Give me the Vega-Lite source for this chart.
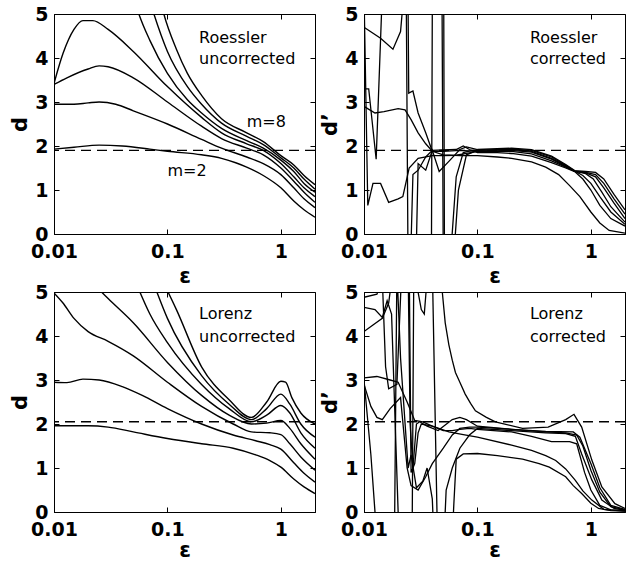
{
  "$schema": "https://vega.github.io/schema/vega-lite/v6.json",
  "background": "white",
  "padding": {"left": 9, "top": 4, "right": 2, "bottom": 0},
  "columns": 2,
  "spacing": {"row": 58, "column": 49},
  "bounds": "flush",
  "config": {
    "view": {"stroke": "black", "strokeWidth": 1},
    "axis": {
      "grid": false, "domainColor": "black", "domainWidth": 1, "tickColor": "black", "tickSize": -5, "tickWidth": 1,
      "labelFont": "DejaVu Sans", "labelFontSize": 19, "labelFontWeight": "bold", "labelColor": "black", "labelPadding": 11,
      "titleFont": "DejaVu Sans", "titleFontSize": 21, "titleFontWeight": "bold", "titleColor": "black",
      "labelOverlap": false, "labelFlush": false
    },
    "axisBottom": {"labelPadding": 13}
  },
  "datasets": {
    "curves": [
      {"p":"RU","m":2,"x":0.01,"y":1.93},{"p":"RU","m":2,"x":0.015,"y":1.97},{"p":"RU","m":2,"x":0.025,"y":2.02},{"p":"RU","m":2,"x":0.04,"y":2.0},{"p":"RU","m":2,"x":0.07,"y":1.93},{"p":"RU","m":2,"x":0.1,"y":1.88},{"p":"RU","m":2,"x":0.2,"y":1.8},{"p":"RU","m":2,"x":0.3,"y":1.72},{"p":"RU","m":2,"x":0.4,"y":1.62},{"p":"RU","m":2,"x":0.5,"y":1.52},{"p":"RU","m":2,"x":0.7,"y":1.33},{"p":"RU","m":2,"x":1,"y":1.05},{"p":"RU","m":2,"x":1.3,"y":0.75},{"p":"RU","m":2,"x":1.6,"y":0.55},{"p":"RU","m":2,"x":2,"y":0.38},
      {"p":"RU","m":3,"x":0.01,"y":2.95},{"p":"RU","m":3,"x":0.015,"y":2.95},{"p":"RU","m":3,"x":0.02,"y":2.98},{"p":"RU","m":3,"x":0.025,"y":3.0},{"p":"RU","m":3,"x":0.035,"y":2.95},{"p":"RU","m":3,"x":0.05,"y":2.8},{"p":"RU","m":3,"x":0.1,"y":2.5},{"p":"RU","m":3,"x":0.2,"y":2.15},{"p":"RU","m":3,"x":0.3,"y":1.95},{"p":"RU","m":3,"x":0.5,"y":1.75},{"p":"RU","m":3,"x":0.7,"y":1.6},{"p":"RU","m":3,"x":1,"y":1.35},{"p":"RU","m":3,"x":1.3,"y":1.05},{"p":"RU","m":3,"x":1.6,"y":0.8},{"p":"RU","m":3,"x":2,"y":0.6},
      {"p":"RU","m":4,"x":0.01,"y":3.4},{"p":"RU","m":4,"x":0.013,"y":3.55},{"p":"RU","m":4,"x":0.02,"y":3.75},{"p":"RU","m":4,"x":0.025,"y":3.82},{"p":"RU","m":4,"x":0.03,"y":3.8},{"p":"RU","m":4,"x":0.05,"y":3.55},{"p":"RU","m":4,"x":0.1,"y":3.0},{"p":"RU","m":4,"x":0.2,"y":2.45},{"p":"RU","m":4,"x":0.3,"y":2.17},{"p":"RU","m":4,"x":0.5,"y":1.95},{"p":"RU","m":4,"x":0.7,"y":1.8},{"p":"RU","m":4,"x":1,"y":1.5},{"p":"RU","m":4,"x":1.3,"y":1.2},{"p":"RU","m":4,"x":1.6,"y":0.95},{"p":"RU","m":4,"x":2,"y":0.72},
      {"p":"RU","m":5,"x":0.01,"y":3.42},{"p":"RU","m":5,"x":0.012,"y":4.1},{"p":"RU","m":5,"x":0.015,"y":4.65},{"p":"RU","m":5,"x":0.018,"y":4.85},{"p":"RU","m":5,"x":0.022,"y":4.85},{"p":"RU","m":5,"x":0.03,"y":4.65},{"p":"RU","m":5,"x":0.05,"y":4.15},{"p":"RU","m":5,"x":0.1,"y":3.35},{"p":"RU","m":5,"x":0.2,"y":2.65},{"p":"RU","m":5,"x":0.3,"y":2.3},{"p":"RU","m":5,"x":0.5,"y":2.05},{"p":"RU","m":5,"x":0.7,"y":1.9},{"p":"RU","m":5,"x":1,"y":1.6},{"p":"RU","m":5,"x":1.3,"y":1.3},{"p":"RU","m":5,"x":1.6,"y":1.05},{"p":"RU","m":5,"x":2,"y":0.85},
      {"p":"RU","m":6,"x":0.05,"y":5.4},{"p":"RU","m":6,"x":0.056,"y":5.0},{"p":"RU","m":6,"x":0.07,"y":4.4},{"p":"RU","m":6,"x":0.1,"y":3.65},{"p":"RU","m":6,"x":0.15,"y":3.05},{"p":"RU","m":6,"x":0.2,"y":2.75},{"p":"RU","m":6,"x":0.3,"y":2.4},{"p":"RU","m":6,"x":0.5,"y":2.12},{"p":"RU","m":6,"x":0.7,"y":1.95},{"p":"RU","m":6,"x":1,"y":1.68},{"p":"RU","m":6,"x":1.3,"y":1.42},{"p":"RU","m":6,"x":1.6,"y":1.15},{"p":"RU","m":6,"x":2,"y":0.95},
      {"p":"RU","m":7,"x":0.068,"y":5.4},{"p":"RU","m":7,"x":0.076,"y":5.0},{"p":"RU","m":7,"x":0.1,"y":4.15},{"p":"RU","m":7,"x":0.15,"y":3.35},{"p":"RU","m":7,"x":0.2,"y":2.95},{"p":"RU","m":7,"x":0.3,"y":2.52},{"p":"RU","m":7,"x":0.5,"y":2.22},{"p":"RU","m":7,"x":0.7,"y":2.03},{"p":"RU","m":7,"x":1,"y":1.73},{"p":"RU","m":7,"x":1.3,"y":1.5},{"p":"RU","m":7,"x":1.6,"y":1.25},{"p":"RU","m":7,"x":2,"y":1.02},
      {"p":"RU","m":8,"x":0.085,"y":5.4},{"p":"RU","m":8,"x":0.093,"y":5.0},{"p":"RU","m":8,"x":0.12,"y":4.2},{"p":"RU","m":8,"x":0.15,"y":3.65},{"p":"RU","m":8,"x":0.2,"y":3.15},{"p":"RU","m":8,"x":0.3,"y":2.62},{"p":"RU","m":8,"x":0.5,"y":2.3},{"p":"RU","m":8,"x":0.7,"y":2.1},{"p":"RU","m":8,"x":1,"y":1.78},{"p":"RU","m":8,"x":1.3,"y":1.57},{"p":"RU","m":8,"x":1.6,"y":1.33},{"p":"RU","m":8,"x":2,"y":1.12},

      {"p":"RC","m":2,"x":0.01,"y":2.9},{"p":"RC","m":2,"x":0.0125,"y":2.75},{"p":"RC","m":2,"x":0.015,"y":2.78},{"p":"RC","m":2,"x":0.02,"y":2.85},{"p":"RC","m":2,"x":0.023,"y":2.82},{"p":"RC","m":2,"x":0.026,"y":2.6},{"p":"RC","m":2,"x":0.03,"y":2.3},{"p":"RC","m":2,"x":0.035,"y":2.05},{"p":"RC","m":2,"x":0.04,"y":1.88},{"p":"RC","m":2,"x":0.05,"y":1.8},{"p":"RC","m":2,"x":0.07,"y":1.78},{"p":"RC","m":2,"x":0.1,"y":1.78},{"p":"RC","m":2,"x":0.15,"y":1.75},{"p":"RC","m":2,"x":0.2,"y":1.72},{"p":"RC","m":2,"x":0.3,"y":1.64},{"p":"RC","m":2,"x":0.4,"y":1.52},{"p":"RC","m":2,"x":0.52,"y":1.35},{"p":"RC","m":2,"x":0.65,"y":1.1},{"p":"RC","m":2,"x":0.8,"y":0.85},{"p":"RC","m":2,"x":1,"y":0.5},{"p":"RC","m":2,"x":1.2,"y":0.25},{"p":"RC","m":2,"x":1.45,"y":0.08},{"p":"RC","m":2,"x":2,"y":0.02},
      {"p":"RC","m":3,"x":0.01,"y":3.3},{"p":"RC","m":3,"x":0.011,"y":3.3},{"p":"RC","m":3,"x":0.0128,"y":1.7},{"p":"RC","m":3,"x":0.0145,"y":5.5},{"p":"RC","m":3,"x":0.0235,"y":6},{"p":"RC","m":3,"x":0.0245,"y":-1},{"p":"RC","m":3,"x":0.0255,"y":-1},{"p":"RC","m":3,"x":0.027,"y":1.35},{"p":"RC","m":3,"x":0.03,"y":1.45},{"p":"RC","m":3,"x":0.035,"y":1.75},{"p":"RC","m":3,"x":0.04,"y":1.9},{"p":"RC","m":3,"x":0.05,"y":1.91},{"p":"RC","m":3,"x":0.065,"y":1.92},{"p":"RC","m":3,"x":0.075,"y":2.0},{"p":"RC","m":3,"x":0.085,"y":1.92},{"p":"RC","m":3,"x":0.1,"y":1.85},{"p":"RC","m":3,"x":0.15,"y":1.85},{"p":"RC","m":3,"x":0.2,"y":1.83},{"p":"RC","m":3,"x":0.3,"y":1.77},{"p":"RC","m":3,"x":0.45,"y":1.62},{"p":"RC","m":3,"x":0.6,"y":1.5},{"p":"RC","m":3,"x":0.72,"y":1.42},{"p":"RC","m":3,"x":0.85,"y":1.25},{"p":"RC","m":3,"x":1,"y":1.0},{"p":"RC","m":3,"x":1.2,"y":0.65},{"p":"RC","m":3,"x":1.5,"y":0.35},{"p":"RC","m":3,"x":2,"y":0.18},
      {"p":"RC","m":4,"x":0.01,"y":4.7},{"p":"RC","m":4,"x":0.014,"y":4.45},{"p":"RC","m":4,"x":0.018,"y":4.2},{"p":"RC","m":4,"x":0.021,"y":4.6},{"p":"RC","m":4,"x":0.0225,"y":5.5},{"p":"RC","m":4,"x":0.024,"y":8},{"p":"RC","m":4,"x":0.0248,"y":3.2},{"p":"RC","m":4,"x":0.027,"y":3.25},{"p":"RC","m":4,"x":0.03,"y":2.75},{"p":"RC","m":4,"x":0.035,"y":2.3},{"p":"RC","m":4,"x":0.04,"y":1.88},{"p":"RC","m":4,"x":0.05,"y":1.88},{"p":"RC","m":4,"x":0.07,"y":1.9},{"p":"RC","m":4,"x":0.1,"y":1.88},{"p":"RC","m":4,"x":0.15,"y":1.88},{"p":"RC","m":4,"x":0.2,"y":1.88},{"p":"RC","m":4,"x":0.3,"y":1.82},{"p":"RC","m":4,"x":0.45,"y":1.66},{"p":"RC","m":4,"x":0.6,"y":1.52},{"p":"RC","m":4,"x":0.72,"y":1.43},{"p":"RC","m":4,"x":0.85,"y":1.33},{"p":"RC","m":4,"x":1,"y":1.15},{"p":"RC","m":4,"x":1.2,"y":0.85},{"p":"RC","m":4,"x":1.5,"y":0.5},{"p":"RC","m":4,"x":2,"y":0.22},
      {"p":"RC","m":5,"x":0.01,"y":5.5},{"p":"RC","m":5,"x":0.0108,"y":0.65},{"p":"RC","m":5,"x":0.012,"y":1.15},{"p":"RC","m":5,"x":0.014,"y":1.15},{"p":"RC","m":5,"x":0.0165,"y":0.72},{"p":"RC","m":5,"x":0.02,"y":0.8},{"p":"RC","m":5,"x":0.022,"y":0.85},{"p":"RC","m":5,"x":0.025,"y":1.5},{"p":"RC","m":5,"x":0.03,"y":1.72},{"p":"RC","m":5,"x":0.04,"y":1.78},{"p":"RC","m":5,"x":0.05,"y":1.78},{"p":"RC","m":5,"x":0.065,"y":1.79},{"p":"RC","m":5,"x":0.08,"y":1.83},{"p":"RC","m":5,"x":0.1,"y":1.88},{"p":"RC","m":5,"x":0.2,"y":1.9},{"p":"RC","m":5,"x":0.3,"y":1.86},{"p":"RC","m":5,"x":0.45,"y":1.7},{"p":"RC","m":5,"x":0.6,"y":1.53},{"p":"RC","m":5,"x":0.72,"y":1.43},{"p":"RC","m":5,"x":0.9,"y":1.37},{"p":"RC","m":5,"x":1.05,"y":1.25},{"p":"RC","m":5,"x":1.25,"y":0.95},{"p":"RC","m":5,"x":1.5,"y":0.62},{"p":"RC","m":5,"x":2,"y":0.27},
      {"p":"RC","m":6,"x":0.01,"y":-3},{"p":"RC","m":6,"x":0.039,"y":-3},{"p":"RC","m":6,"x":0.0405,"y":9},{"p":"RC","m":6,"x":0.05,"y":9},{"p":"RC","m":6,"x":0.0515,"y":-3},{"p":"RC","m":6,"x":0.058,"y":-0.5},{"p":"RC","m":6,"x":0.065,"y":1.3},{"p":"RC","m":6,"x":0.075,"y":1.85},{"p":"RC","m":6,"x":0.09,"y":1.9},{"p":"RC","m":6,"x":0.1,"y":1.9},{"p":"RC","m":6,"x":0.2,"y":1.92},{"p":"RC","m":6,"x":0.3,"y":1.88},{"p":"RC","m":6,"x":0.45,"y":1.72},{"p":"RC","m":6,"x":0.6,"y":1.55},{"p":"RC","m":6,"x":0.72,"y":1.43},{"p":"RC","m":6,"x":0.9,"y":1.39},{"p":"RC","m":6,"x":1.1,"y":1.3},{"p":"RC","m":6,"x":1.3,"y":1.05},{"p":"RC","m":6,"x":1.6,"y":0.7},{"p":"RC","m":6,"x":2,"y":0.35},
      {"p":"RC","m":7,"x":0.01,"y":9},{"p":"RC","m":7,"x":0.048,"y":9},{"p":"RC","m":7,"x":0.0505,"y":-3},{"p":"RC","m":7,"x":0.06,"y":-1},{"p":"RC","m":7,"x":0.068,"y":1.0},{"p":"RC","m":7,"x":0.08,"y":1.8},{"p":"RC","m":7,"x":0.1,"y":1.9},{"p":"RC","m":7,"x":0.2,"y":1.93},{"p":"RC","m":7,"x":0.3,"y":1.9},{"p":"RC","m":7,"x":0.45,"y":1.75},{"p":"RC","m":7,"x":0.6,"y":1.56},{"p":"RC","m":7,"x":0.72,"y":1.43},{"p":"RC","m":7,"x":0.9,"y":1.4},{"p":"RC","m":7,"x":1.1,"y":1.35},{"p":"RC","m":7,"x":1.3,"y":1.15},{"p":"RC","m":7,"x":1.6,"y":0.8},{"p":"RC","m":7,"x":2,"y":0.45},
      {"p":"RC","m":8,"x":0.01,"y":-2},{"p":"RC","m":8,"x":0.028,"y":-2},{"p":"RC","m":8,"x":0.03,"y":1.6},{"p":"RC","m":8,"x":0.035,"y":1.45},{"p":"RC","m":8,"x":0.04,"y":1.9},{"p":"RC","m":8,"x":0.046,"y":1.42},{"p":"RC","m":8,"x":0.056,"y":1.65},{"p":"RC","m":8,"x":0.07,"y":1.92},{"p":"RC","m":8,"x":0.08,"y":1.98},{"p":"RC","m":8,"x":0.1,"y":1.92},{"p":"RC","m":8,"x":0.2,"y":1.95},{"p":"RC","m":8,"x":0.3,"y":1.92},{"p":"RC","m":8,"x":0.45,"y":1.77},{"p":"RC","m":8,"x":0.6,"y":1.58},{"p":"RC","m":8,"x":0.72,"y":1.44},{"p":"RC","m":8,"x":0.9,"y":1.42},{"p":"RC","m":8,"x":1.1,"y":1.4},{"p":"RC","m":8,"x":1.3,"y":1.25},{"p":"RC","m":8,"x":1.6,"y":0.9},{"p":"RC","m":8,"x":2,"y":0.55},

      {"p":"LU","m":2,"x":0.01,"y":1.96},{"p":"LU","m":2,"x":0.02,"y":1.96},{"p":"LU","m":2,"x":0.03,"y":1.93},{"p":"LU","m":2,"x":0.05,"y":1.82},{"p":"LU","m":2,"x":0.1,"y":1.67},{"p":"LU","m":2,"x":0.2,"y":1.55},{"p":"LU","m":2,"x":0.38,"y":1.45},{"p":"LU","m":2,"x":0.6,"y":1.3},{"p":"LU","m":2,"x":0.8,"y":1.17},{"p":"LU","m":2,"x":1,"y":1.02},{"p":"LU","m":2,"x":1.3,"y":0.75},{"p":"LU","m":2,"x":1.6,"y":0.57},{"p":"LU","m":2,"x":2,"y":0.42},
      {"p":"LU","m":3,"x":0.01,"y":2.95},{"p":"LU","m":3,"x":0.013,"y":2.94},{"p":"LU","m":3,"x":0.018,"y":3.02},{"p":"LU","m":3,"x":0.025,"y":3.0},{"p":"LU","m":3,"x":0.04,"y":2.85},{"p":"LU","m":3,"x":0.06,"y":2.65},{"p":"LU","m":3,"x":0.1,"y":2.35},{"p":"LU","m":3,"x":0.2,"y":2.0},{"p":"LU","m":3,"x":0.38,"y":1.75},{"p":"LU","m":3,"x":0.6,"y":1.62},{"p":"LU","m":3,"x":0.8,"y":1.53},{"p":"LU","m":3,"x":1,"y":1.43},{"p":"LU","m":3,"x":1.3,"y":1.12},{"p":"LU","m":3,"x":1.6,"y":0.88},{"p":"LU","m":3,"x":2,"y":0.68},
      {"p":"LU","m":4,"x":0.01,"y":4.98},{"p":"LU","m":4,"x":0.012,"y":4.75},{"p":"LU","m":4,"x":0.015,"y":4.4},{"p":"LU","m":4,"x":0.02,"y":4.1},{"p":"LU","m":4,"x":0.03,"y":3.88},{"p":"LU","m":4,"x":0.05,"y":3.55},{"p":"LU","m":4,"x":0.1,"y":2.95},{"p":"LU","m":4,"x":0.2,"y":2.4},{"p":"LU","m":4,"x":0.38,"y":2.0},{"p":"LU","m":4,"x":0.55,"y":1.82},{"p":"LU","m":4,"x":0.8,"y":1.8},{"p":"LU","m":4,"x":1,"y":1.76},{"p":"LU","m":4,"x":1.2,"y":1.55},{"p":"LU","m":4,"x":1.5,"y":1.25},{"p":"LU","m":4,"x":2,"y":0.95},
      {"p":"LU","m":5,"x":0.022,"y":5.2},{"p":"LU","m":5,"x":0.03,"y":4.85},{"p":"LU","m":5,"x":0.05,"y":4.3},{"p":"LU","m":5,"x":0.1,"y":3.4},{"p":"LU","m":5,"x":0.2,"y":2.65},{"p":"LU","m":5,"x":0.35,"y":2.2},{"p":"LU","m":5,"x":0.55,"y":2.0},{"p":"LU","m":5,"x":0.75,"y":2.02},{"p":"LU","m":5,"x":1,"y":2.08},{"p":"LU","m":5,"x":1.2,"y":1.9},{"p":"LU","m":5,"x":1.5,"y":1.55},{"p":"LU","m":5,"x":2,"y":1.2},
      {"p":"LU","m":6,"x":0.055,"y":5.1},{"p":"LU","m":6,"x":0.07,"y":4.5},{"p":"LU","m":6,"x":0.1,"y":3.85},{"p":"LU","m":6,"x":0.2,"y":2.9},{"p":"LU","m":6,"x":0.35,"y":2.35},{"p":"LU","m":6,"x":0.55,"y":2.05},{"p":"LU","m":6,"x":0.75,"y":2.2},{"p":"LU","m":6,"x":1,"y":2.42},{"p":"LU","m":6,"x":1.2,"y":2.25},{"p":"LU","m":6,"x":1.5,"y":1.8},{"p":"LU","m":6,"x":2,"y":1.45},
      {"p":"LU","m":7,"x":0.078,"y":5.1},{"p":"LU","m":7,"x":0.1,"y":4.4},{"p":"LU","m":7,"x":0.2,"y":3.1},{"p":"LU","m":7,"x":0.35,"y":2.45},{"p":"LU","m":7,"x":0.55,"y":2.1},{"p":"LU","m":7,"x":0.75,"y":2.35},{"p":"LU","m":7,"x":1,"y":2.68},{"p":"LU","m":7,"x":1.2,"y":2.45},{"p":"LU","m":7,"x":1.5,"y":2.0},{"p":"LU","m":7,"x":2,"y":1.7},
      {"p":"LU","m":8,"x":0.097,"y":5.1},{"p":"LU","m":8,"x":0.12,"y":4.6},{"p":"LU","m":8,"x":0.2,"y":3.3},{"p":"LU","m":8,"x":0.35,"y":2.55},{"p":"LU","m":8,"x":0.55,"y":2.15},{"p":"LU","m":8,"x":0.75,"y":2.5},{"p":"LU","m":8,"x":1,"y":2.97},{"p":"LU","m":8,"x":1.1,"y":2.95},{"p":"LU","m":8,"x":1.25,"y":2.6},{"p":"LU","m":8,"x":1.5,"y":2.25},{"p":"LU","m":8,"x":2,"y":2.0},

      {"p":"LC","m":2,"x":0.01,"y":3.0},{"p":"LC","m":2,"x":0.0115,"y":1.3},{"p":"LC","m":2,"x":0.0125,"y":0},{"p":"LC","m":2,"x":0.013,"y":-1},{"p":"LC","m":2,"x":0.0185,"y":-1},{"p":"LC","m":2,"x":0.0195,"y":5.5},{"p":"LC","m":2,"x":0.021,"y":3.5},{"p":"LC","m":2,"x":0.0245,"y":1.0},{"p":"LC","m":2,"x":0.026,"y":1.3},{"p":"LC","m":2,"x":0.029,"y":0.55},{"p":"LC","m":2,"x":0.033,"y":0.7},{"p":"LC","m":2,"x":0.036,"y":1.0},{"p":"LC","m":2,"x":0.04,"y":0.3},{"p":"LC","m":2,"x":0.042,"y":-1},{"p":"LC","m":2,"x":0.059,"y":-1},{"p":"LC","m":2,"x":0.062,"y":0.2},{"p":"LC","m":2,"x":0.065,"y":1.2},{"p":"LC","m":2,"x":0.075,"y":1.32},{"p":"LC","m":2,"x":0.1,"y":1.33},{"p":"LC","m":2,"x":0.15,"y":1.28},{"p":"LC","m":2,"x":0.25,"y":1.2},{"p":"LC","m":2,"x":0.35,"y":1.1},{"p":"LC","m":2,"x":0.43,"y":1.02},{"p":"LC","m":2,"x":0.6,"y":0.8},{"p":"LC","m":2,"x":0.7,"y":0.6},{"p":"LC","m":2,"x":0.83,"y":0.42},{"p":"LC","m":2,"x":1,"y":0.2},{"p":"LC","m":2,"x":1.17,"y":0.08},{"p":"LC","m":2,"x":1.5,"y":0.03},{"p":"LC","m":2,"x":2,"y":0.02},
      {"p":"LC","m":3,"x":0.01,"y":3.05},{"p":"LC","m":3,"x":0.013,"y":3.08},{"p":"LC","m":3,"x":0.017,"y":3.0},{"p":"LC","m":3,"x":0.02,"y":2.95},{"p":"LC","m":3,"x":0.024,"y":2.5},{"p":"LC","m":3,"x":0.028,"y":2.08},{"p":"LC","m":3,"x":0.033,"y":2.05},{"p":"LC","m":3,"x":0.04,"y":1.95},{"p":"LC","m":3,"x":0.056,"y":1.82},{"p":"LC","m":3,"x":0.075,"y":1.76},{"p":"LC","m":3,"x":0.1,"y":1.7},{"p":"LC","m":3,"x":0.2,"y":1.52},{"p":"LC","m":3,"x":0.3,"y":1.4},{"p":"LC","m":3,"x":0.4,"y":1.28},{"p":"LC","m":3,"x":0.49,"y":1.17},{"p":"LC","m":3,"x":0.6,"y":0.98},{"p":"LC","m":3,"x":0.73,"y":0.72},{"p":"LC","m":3,"x":0.85,"y":0.48},{"p":"LC","m":3,"x":1.02,"y":0.27},{"p":"LC","m":3,"x":1.3,"y":0.06},{"p":"LC","m":3,"x":2,"y":0.02},
      {"p":"LC","m":4,"x":0.01,"y":4.1},{"p":"LC","m":4,"x":0.012,"y":4.25},{"p":"LC","m":4,"x":0.0145,"y":4.4},{"p":"LC","m":4,"x":0.0165,"y":4.75},{"p":"LC","m":4,"x":0.018,"y":5.5},{"p":"LC","m":4,"x":0.025,"y":5.8},{"p":"LC","m":4,"x":0.026,"y":0.9},{"p":"LC","m":4,"x":0.028,"y":1.1},{"p":"LC","m":4,"x":0.03,"y":1.8},{"p":"LC","m":4,"x":0.032,"y":2.0},{"p":"LC","m":4,"x":0.04,"y":1.95},{"p":"LC","m":4,"x":0.05,"y":1.85},{"p":"LC","m":4,"x":0.06,"y":1.85},{"p":"LC","m":4,"x":0.07,"y":1.88},{"p":"LC","m":4,"x":0.085,"y":1.9},{"p":"LC","m":4,"x":0.1,"y":1.88},{"p":"LC","m":4,"x":0.2,"y":1.82},{"p":"LC","m":4,"x":0.3,"y":1.72},{"p":"LC","m":4,"x":0.45,"y":1.6},{"p":"LC","m":4,"x":0.55,"y":1.6},{"p":"LC","m":4,"x":0.65,"y":1.6},{"p":"LC","m":4,"x":0.75,"y":1.55},{"p":"LC","m":4,"x":0.88,"y":0.9},{"p":"LC","m":4,"x":1,"y":0.5},{"p":"LC","m":4,"x":1.2,"y":0.15},{"p":"LC","m":4,"x":1.5,"y":0.05},{"p":"LC","m":4,"x":2,"y":0.03},
      {"p":"LC","m":5,"x":0.01,"y":4.65},{"p":"LC","m":5,"x":0.0125,"y":4.6},{"p":"LC","m":5,"x":0.0145,"y":4.42},{"p":"LC","m":5,"x":0.016,"y":4.8},{"p":"LC","m":5,"x":0.0175,"y":4.5},{"p":"LC","m":5,"x":0.02,"y":0},{"p":"LC","m":5,"x":0.021,"y":-1},{"p":"LC","m":5,"x":0.0265,"y":-1},{"p":"LC","m":5,"x":0.0275,"y":5.6},{"p":"LC","m":5,"x":0.029,"y":5.2},{"p":"LC","m":5,"x":0.032,"y":4.6},{"p":"LC","m":5,"x":0.034,"y":4.5},{"p":"LC","m":5,"x":0.036,"y":5.3},{"p":"LC","m":5,"x":0.04,"y":5.6},{"p":"LC","m":5,"x":0.044,"y":0},{"p":"LC","m":5,"x":0.045,"y":-1},{"p":"LC","m":5,"x":0.05,"y":-1},{"p":"LC","m":5,"x":0.053,"y":0.5},{"p":"LC","m":5,"x":0.06,"y":1.0},{"p":"LC","m":5,"x":0.07,"y":1.45},{"p":"LC","m":5,"x":0.085,"y":1.75},{"p":"LC","m":5,"x":0.1,"y":1.9},{"p":"LC","m":5,"x":0.2,"y":1.85},{"p":"LC","m":5,"x":0.4,"y":1.8},{"p":"LC","m":5,"x":0.6,"y":1.78},{"p":"LC","m":5,"x":0.73,"y":1.72},{"p":"LC","m":5,"x":0.83,"y":1.32},{"p":"LC","m":5,"x":1.02,"y":0.73},{"p":"LC","m":5,"x":1.25,"y":0.27},{"p":"LC","m":5,"x":1.6,"y":0.08},{"p":"LC","m":5,"x":2,"y":0.04},
      {"p":"LC","m":6,"x":0.01,"y":4.88},{"p":"LC","m":6,"x":0.013,"y":4.95},{"p":"LC","m":6,"x":0.0145,"y":5.3},{"p":"LC","m":6,"x":0.0155,"y":3.3},{"p":"LC","m":6,"x":0.0165,"y":2.8},{"p":"LC","m":6,"x":0.0195,"y":2.9},{"p":"LC","m":6,"x":0.0215,"y":5.5},{"p":"LC","m":6,"x":0.0245,"y":5.5},{"p":"LC","m":6,"x":0.0255,"y":2.0},{"p":"LC","m":6,"x":0.027,"y":1.0},{"p":"LC","m":6,"x":0.029,"y":2.0},{"p":"LC","m":6,"x":0.031,"y":2.05},{"p":"LC","m":6,"x":0.036,"y":1.95},{"p":"LC","m":6,"x":0.045,"y":1.85},{"p":"LC","m":6,"x":0.06,"y":2.1},{"p":"LC","m":6,"x":0.07,"y":2.15},{"p":"LC","m":6,"x":0.08,"y":2.1},{"p":"LC","m":6,"x":0.1,"y":1.95},{"p":"LC","m":6,"x":0.2,"y":1.88},{"p":"LC","m":6,"x":0.4,"y":1.82},{"p":"LC","m":6,"x":0.6,"y":1.8},{"p":"LC","m":6,"x":0.75,"y":1.75},{"p":"LC","m":6,"x":0.85,"y":1.5},{"p":"LC","m":6,"x":1,"y":0.95},{"p":"LC","m":6,"x":1.2,"y":0.45},{"p":"LC","m":6,"x":1.5,"y":0.12},{"p":"LC","m":6,"x":2,"y":0.05},
      {"p":"LC","m":7,"x":0.01,"y":2.9},{"p":"LC","m":7,"x":0.0115,"y":2.4},{"p":"LC","m":7,"x":0.013,"y":2.15},{"p":"LC","m":7,"x":0.0145,"y":2.1},{"p":"LC","m":7,"x":0.017,"y":2.35},{"p":"LC","m":7,"x":0.021,"y":2.6},{"p":"LC","m":7,"x":0.024,"y":1.0},{"p":"LC","m":7,"x":0.026,"y":0.6},{"p":"LC","m":7,"x":0.03,"y":0.5},{"p":"LC","m":7,"x":0.035,"y":0.8},{"p":"LC","m":7,"x":0.04,"y":1.1},{"p":"LC","m":7,"x":0.05,"y":1.45},{"p":"LC","m":7,"x":0.06,"y":1.75},{"p":"LC","m":7,"x":0.07,"y":1.9},{"p":"LC","m":7,"x":0.085,"y":1.93},{"p":"LC","m":7,"x":0.1,"y":1.93},{"p":"LC","m":7,"x":0.2,"y":1.88},{"p":"LC","m":7,"x":0.4,"y":1.83},{"p":"LC","m":7,"x":0.7,"y":1.82},{"p":"LC","m":7,"x":0.8,"y":1.7},{"p":"LC","m":7,"x":1,"y":1.1},{"p":"LC","m":7,"x":1.2,"y":0.55},{"p":"LC","m":7,"x":1.5,"y":0.15},{"p":"LC","m":7,"x":2,"y":0.06},
      {"p":"LC","m":8,"x":0.01,"y":9},{"p":"LC","m":8,"x":0.045,"y":9},{"p":"LC","m":8,"x":0.049,"y":5.0},{"p":"LC","m":8,"x":0.052,"y":4.3},{"p":"LC","m":8,"x":0.056,"y":3.8},{"p":"LC","m":8,"x":0.06,"y":3.45},{"p":"LC","m":8,"x":0.064,"y":3.17},{"p":"LC","m":8,"x":0.07,"y":2.95},{"p":"LC","m":8,"x":0.078,"y":2.68},{"p":"LC","m":8,"x":0.087,"y":2.47},{"p":"LC","m":8,"x":0.096,"y":2.3},{"p":"LC","m":8,"x":0.12,"y":2.15},{"p":"LC","m":8,"x":0.144,"y":2.05},{"p":"LC","m":8,"x":0.25,"y":1.9},{"p":"LC","m":8,"x":0.42,"y":1.93},{"p":"LC","m":8,"x":0.6,"y":2.1},{"p":"LC","m":8,"x":0.71,"y":2.22},{"p":"LC","m":8,"x":0.83,"y":1.93},{"p":"LC","m":8,"x":1.02,"y":1.18},{"p":"LC","m":8,"x":1.25,"y":0.57},{"p":"LC","m":8,"x":1.63,"y":0.19},{"p":"LC","m":8,"x":2,"y":0.08}
    ],
    "notes": [
      {"p":"RU","x":0.19,"y":4.34,"t":"Roessler"},{"p":"RU","x":0.19,"y":3.86,"t":"uncorrected"},{"p":"RU","x":0.5,"y":2.43,"t":"m=8"},{"p":"RU","x":0.1,"y":1.32,"t":"m=2"},
      {"p":"RC","x":0.29,"y":4.34,"t":"Roessler"},{"p":"RC","x":0.29,"y":3.86,"t":"corrected"},
      {"p":"LU","x":0.19,"y":4.38,"t":"Lorenz"},{"p":"LU","x":0.19,"y":3.86,"t":"uncorrected"},
      {"p":"LC","x":0.29,"y":4.38,"t":"Lorenz"},{"p":"LC","x":0.29,"y":3.86,"t":"corrected"}
    ],
    "refs": [
      {"p":"RU","v":1.9},{"p":"RC","v":1.9},{"p":"LU","v":2.05},{"p":"LC","v":2.05}
    ]
  },
  "concat": [
    {
      "width": 261, "height": 220,
      "resolve": {"axis": {"x": "independent", "y": "independent"}},
      "layer": [
        {"data": {"name": "curves"}, "transform": [{"filter": "datum.p === 'RU'"}],
         "mark": {"type": "line", "clip": true, "interpolate": "monotone", "color": "black", "strokeWidth": 1.4},
         "encoding": {
           "x": {"field": "x", "type": "quantitative", "scale": {"type": "log", "domain": [0.01, 2], "nice": false}, "axis": {"values": [0.01, 0.1, 1], "format": "~g", "title": "ε", "titlePadding": 4}},
           "y": {"field": "y", "type": "quantitative", "scale": {"domain": [0, 5], "nice": false, "zero": false}, "axis": {"values": [0, 1, 2, 3, 4, 5], "format": "d", "title": "d", "titlePadding": 4}},
           "detail": {"field": "m"}}},
        {"data": {"name": "refs"}, "transform": [{"filter": "datum.p === 'RU'"}],
         "mark": {"type": "rule", "strokeDash": [10, 6], "color": "black", "strokeWidth": 1.4},
         "encoding": {"y": {"field": "v", "type": "quantitative", "axis": null}}},
        {"data": {"name": "notes"}, "transform": [{"filter": "datum.p === 'RU'"}],
         "mark": {"type": "text", "align": "left", "baseline": "alphabetic", "font": "DejaVu Sans", "fontSize": 16, "color": "black"},
         "encoding": {
           "x": {"field": "x", "type": "quantitative", "axis": {"orient": "top", "values": [0.01, 0.1, 1], "labels": false, "title": null, "domain": false}},
           "y": {"field": "y", "type": "quantitative", "axis": {"orient": "right", "values": [0, 1, 2, 3, 4, 5], "labels": false, "title": null, "domain": false}},
           "text": {"field": "t"}}}
      ]
    },
    {
      "width": 261, "height": 220,
      "resolve": {"axis": {"x": "independent", "y": "independent"}},
      "layer": [
        {"data": {"name": "curves"}, "transform": [{"filter": "datum.p === 'RC'"}],
         "mark": {"type": "line", "clip": true, "interpolate": "linear", "color": "black", "strokeWidth": 1.3},
         "encoding": {
           "x": {"field": "x", "type": "quantitative", "scale": {"type": "log", "domain": [0.01, 2], "nice": false}, "axis": {"values": [0.01, 0.1, 1], "format": "~g", "title": "ε", "titlePadding": 4}},
           "y": {"field": "y", "type": "quantitative", "scale": {"domain": [0, 5], "nice": false, "zero": false}, "axis": {"values": [0, 1, 2, 3, 4, 5], "format": "d", "title": "d’", "titlePadding": 4}},
           "detail": {"field": "m"}}},
        {"data": {"name": "refs"}, "transform": [{"filter": "datum.p === 'RC'"}],
         "mark": {"type": "rule", "strokeDash": [10, 6], "color": "black", "strokeWidth": 1.4},
         "encoding": {"y": {"field": "v", "type": "quantitative", "axis": null}}},
        {"data": {"name": "notes"}, "transform": [{"filter": "datum.p === 'RC'"}],
         "mark": {"type": "text", "align": "left", "baseline": "alphabetic", "font": "DejaVu Sans", "fontSize": 16, "color": "black"},
         "encoding": {
           "x": {"field": "x", "type": "quantitative", "axis": {"orient": "top", "values": [0.01, 0.1, 1], "labels": false, "title": null, "domain": false}},
           "y": {"field": "y", "type": "quantitative", "axis": {"orient": "right", "values": [0, 1, 2, 3, 4, 5], "labels": false, "title": null, "domain": false}},
           "text": {"field": "t"}}}
      ]
    },
    {
      "width": 261, "height": 220,
      "resolve": {"axis": {"x": "independent", "y": "independent"}},
      "layer": [
        {"data": {"name": "curves"}, "transform": [{"filter": "datum.p === 'LU'"}],
         "mark": {"type": "line", "clip": true, "interpolate": "monotone", "color": "black", "strokeWidth": 1.4},
         "encoding": {
           "x": {"field": "x", "type": "quantitative", "scale": {"type": "log", "domain": [0.01, 2], "nice": false}, "axis": {"values": [0.01, 0.1, 1], "format": "~g", "title": "ε", "titlePadding": 0}},
           "y": {"field": "y", "type": "quantitative", "scale": {"domain": [0, 5], "nice": false, "zero": false}, "axis": {"values": [0, 1, 2, 3, 4, 5], "format": "d", "title": "d", "titlePadding": 4}},
           "detail": {"field": "m"}}},
        {"data": {"name": "refs"}, "transform": [{"filter": "datum.p === 'LU'"}],
         "mark": {"type": "rule", "strokeDash": [10, 6], "color": "black", "strokeWidth": 1.4},
         "encoding": {"y": {"field": "v", "type": "quantitative", "axis": null}}},
        {"data": {"name": "notes"}, "transform": [{"filter": "datum.p === 'LU'"}],
         "mark": {"type": "text", "align": "left", "baseline": "alphabetic", "font": "DejaVu Sans", "fontSize": 16, "color": "black"},
         "encoding": {
           "x": {"field": "x", "type": "quantitative", "axis": {"orient": "top", "values": [0.01, 0.1, 1], "labels": false, "title": null, "domain": false}},
           "y": {"field": "y", "type": "quantitative", "axis": {"orient": "right", "values": [0, 1, 2, 3, 4, 5], "labels": false, "title": null, "domain": false}},
           "text": {"field": "t"}}}
      ]
    },
    {
      "width": 261, "height": 220,
      "resolve": {"axis": {"x": "independent", "y": "independent"}},
      "layer": [
        {"data": {"name": "curves"}, "transform": [{"filter": "datum.p === 'LC'"}],
         "mark": {"type": "line", "clip": true, "interpolate": "linear", "color": "black", "strokeWidth": 1.3},
         "encoding": {
           "x": {"field": "x", "type": "quantitative", "scale": {"type": "log", "domain": [0.01, 2], "nice": false}, "axis": {"values": [0.01, 0.1, 1], "format": "~g", "title": "ε", "titlePadding": 0}},
           "y": {"field": "y", "type": "quantitative", "scale": {"domain": [0, 5], "nice": false, "zero": false}, "axis": {"values": [0, 1, 2, 3, 4, 5], "format": "d", "title": "d’", "titlePadding": 4}},
           "detail": {"field": "m"}}},
        {"data": {"name": "refs"}, "transform": [{"filter": "datum.p === 'LC'"}],
         "mark": {"type": "rule", "strokeDash": [10, 6], "color": "black", "strokeWidth": 1.4},
         "encoding": {"y": {"field": "v", "type": "quantitative", "axis": null}}},
        {"data": {"name": "notes"}, "transform": [{"filter": "datum.p === 'LC'"}],
         "mark": {"type": "text", "align": "left", "baseline": "alphabetic", "font": "DejaVu Sans", "fontSize": 16, "color": "black"},
         "encoding": {
           "x": {"field": "x", "type": "quantitative", "axis": {"orient": "top", "values": [0.01, 0.1, 1], "labels": false, "title": null, "domain": false}},
           "y": {"field": "y", "type": "quantitative", "axis": {"orient": "right", "values": [0, 1, 2, 3, 4, 5], "labels": false, "title": null, "domain": false}},
           "text": {"field": "t"}}}
      ]
    }
  ]
}
